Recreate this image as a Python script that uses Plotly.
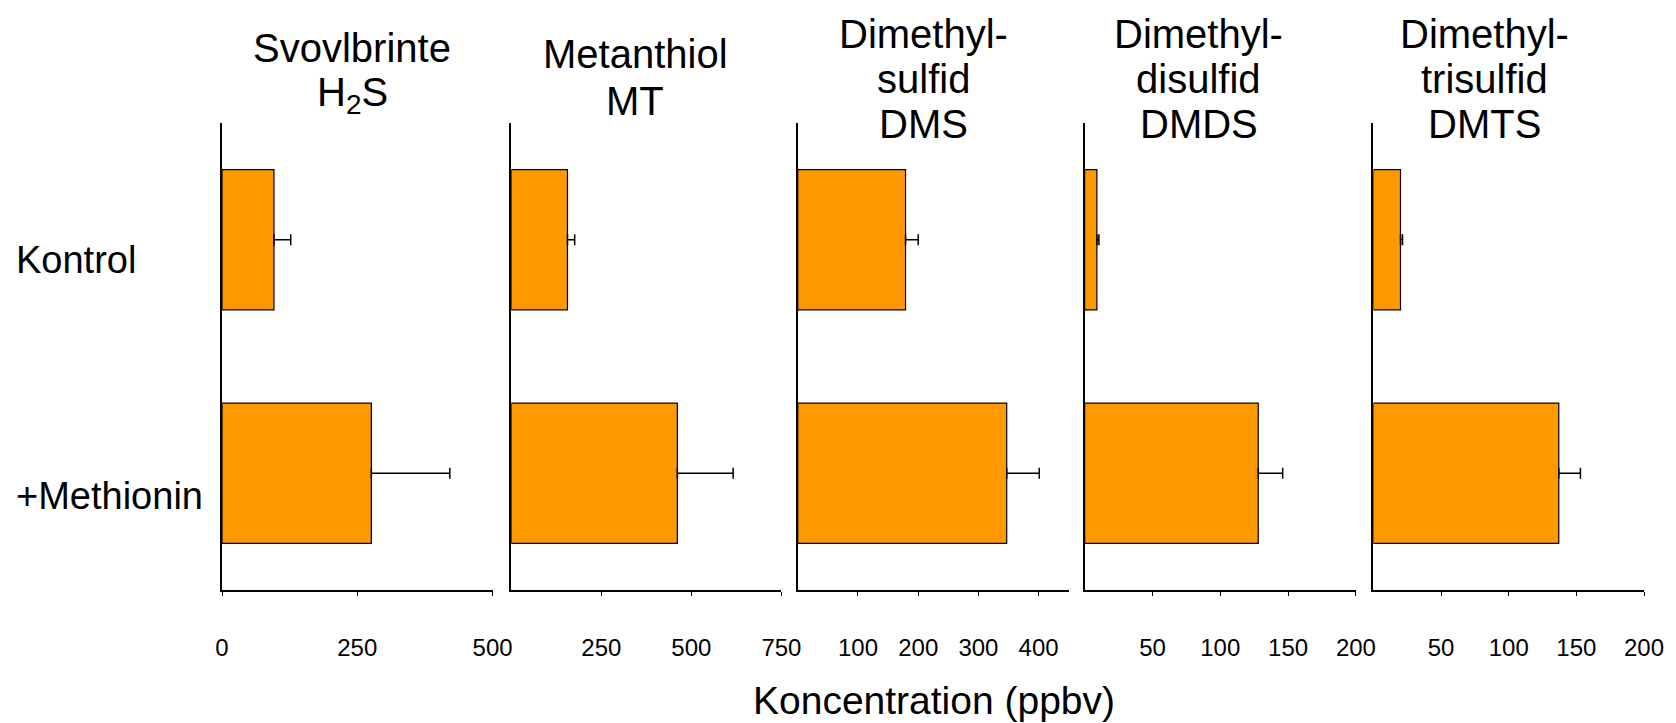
import plotly.graph_objects as go
from plotly.subplots import make_subplots

categories = ["Kontrol", "+Methionin"]
panel_titles = [
    ["Svovlbrinte", "H<sub>2</sub>S"],
    ["Metanthiol", "MT"],
    ["Dimethyl-", "sulfid", "DMS"],
    ["Dimethyl-", "disulfid", "DMDS"],
    ["Dimethyl-", "trisulfid", "DMTS"],
]
h2s_values = [96, 276]
h2s_errors = [31, 145]
mt_values = [156, 461]
mt_errors = [20, 155]
dms_values = [179, 347]
dms_errors = [21, 54]
dmds_values = [9, 128]
dmds_errors = [1.5, 18]
dmts_values = [20, 137]
dmts_errors = [1.5, 16]

x_ranges = [[0, 500], [0, 750], [0, 450], [0, 200], [0, 200]]
tick_values = [[0, 250, 500], [250, 500, 750], [100, 200, 300, 400],
               [50, 100, 150, 200], [50, 100, 150, 200]]
axis_title = "Koncentration (ppbv)"

series = [(h2s_values, h2s_errors), (mt_values, mt_errors), (dms_values, dms_errors),
          (dmds_values, dmds_errors), (dmts_values, dmts_errors)]

W, H = 1676, 723
ML, MR, MT_, MB = 222, 26, 123, 133
PW = W - ML - MR
PH = H - MT_ - MB
panel_px = [(222, 493.7), (512.5, 783.8), (800.2, 1072.3), (1088.3, 1360.7), (1378.3, 1650)]
domains = [[max(0.0, (a - ML) / PW), min(1.0, (b - ML) / PW)] for a, b in panel_px]
title_cx = [353, 637, 926, 1203, 1490]
title_rows_2 = [48, 95]
title_rows_3 = [34, 79, 124]

FONT = "Liberation Sans, Arial, sans-serif"
ORANGE = "#FF9900"

fig = make_subplots(rows=1, cols=5)
for i, (vals, errs) in enumerate(series):
    fig.add_trace(go.Bar(
        x=vals, y=categories, orientation="h", width=0.6,
        marker=dict(color=ORANGE, line=dict(color="black", width=1.2)),
        error_x=dict(type="data", symmetric=False, array=errs, arrayminus=[0] * len(errs),
                     color="black", thickness=1.5, width=5.5),
        showlegend=False,
    ), row=1, col=i + 1)

for i in range(5):
    sx = "" if i == 0 else str(i + 1)
    fig.layout["xaxis" + sx].update(
        domain=domains[i], range=x_ranges[i], tickvals=tick_values[i],
        ticktext=[str(v) for v in tick_values[i]],
        showgrid=False, zeroline=False, showline=True, linecolor="black", linewidth=1.5,
        ticks="outside", ticklen=4, tickwidth=1, tickcolor="black",
        ticklabelstandoff=31,
        tickfont=dict(family=FONT, size=24, color="black"),
        fixedrange=True,
    )
    fig.layout["yaxis" + sx].update(
        categoryorder="array", categoryarray=categories, range=[1.5, -0.5],
        showgrid=False, zeroline=False, showline=True, linecolor="black", linewidth=1.5,
        showticklabels=False, ticks="", fixedrange=True,
    )

annotations = []
for i, lines in enumerate(panel_titles):
    rows = title_rows_2 if len(lines) == 2 else title_rows_3
    if i == 1:
        rows = [r + 6 for r in rows]
    for line, ypix in zip(lines, rows):
        annotations.append(dict(
            text=line, xref="paper", yref="paper", x=(title_cx[i] - ML) / PW,
            y=(MT_ + PH - ypix) / PH,
            xanchor="center", yanchor="middle", showarrow=False, align="center",
            font=dict(family=FONT, size=40, color="black"),
        ))

label_pix = [260, 496]
for cat, yp in zip(categories, label_pix):
    annotations.append(dict(
        text=cat, xref="paper", yref="paper", x=(13 - ML) / PW, y=(MT_ + PH - yp) / PH,
        xanchor="left", yanchor="middle", showarrow=False,
        font=dict(family=FONT, size=38, color="black"),
    ))

annotations.append(dict(
    text=axis_title, xref="paper", yref="paper", x=(937 - ML) / PW, y=(MT_ + PH - 700) / PH,
    xanchor="center", yanchor="middle", showarrow=False, borderpad=0,
    font=dict(family=FONT, size=39, color="black"),
))

fig.update_layout(
    width=W, height=H, margin=dict(l=ML, r=MR, t=MT_, b=MB),
    paper_bgcolor="white", plot_bgcolor="white",
    annotations=annotations, bargap=0.4,
    font=dict(family=FONT, color="black"),
)

fig.write_html("out.html", config={"displayModeBar": False},
               post_script="document.body.style.margin='0';document.body.style.overflow='hidden';")
